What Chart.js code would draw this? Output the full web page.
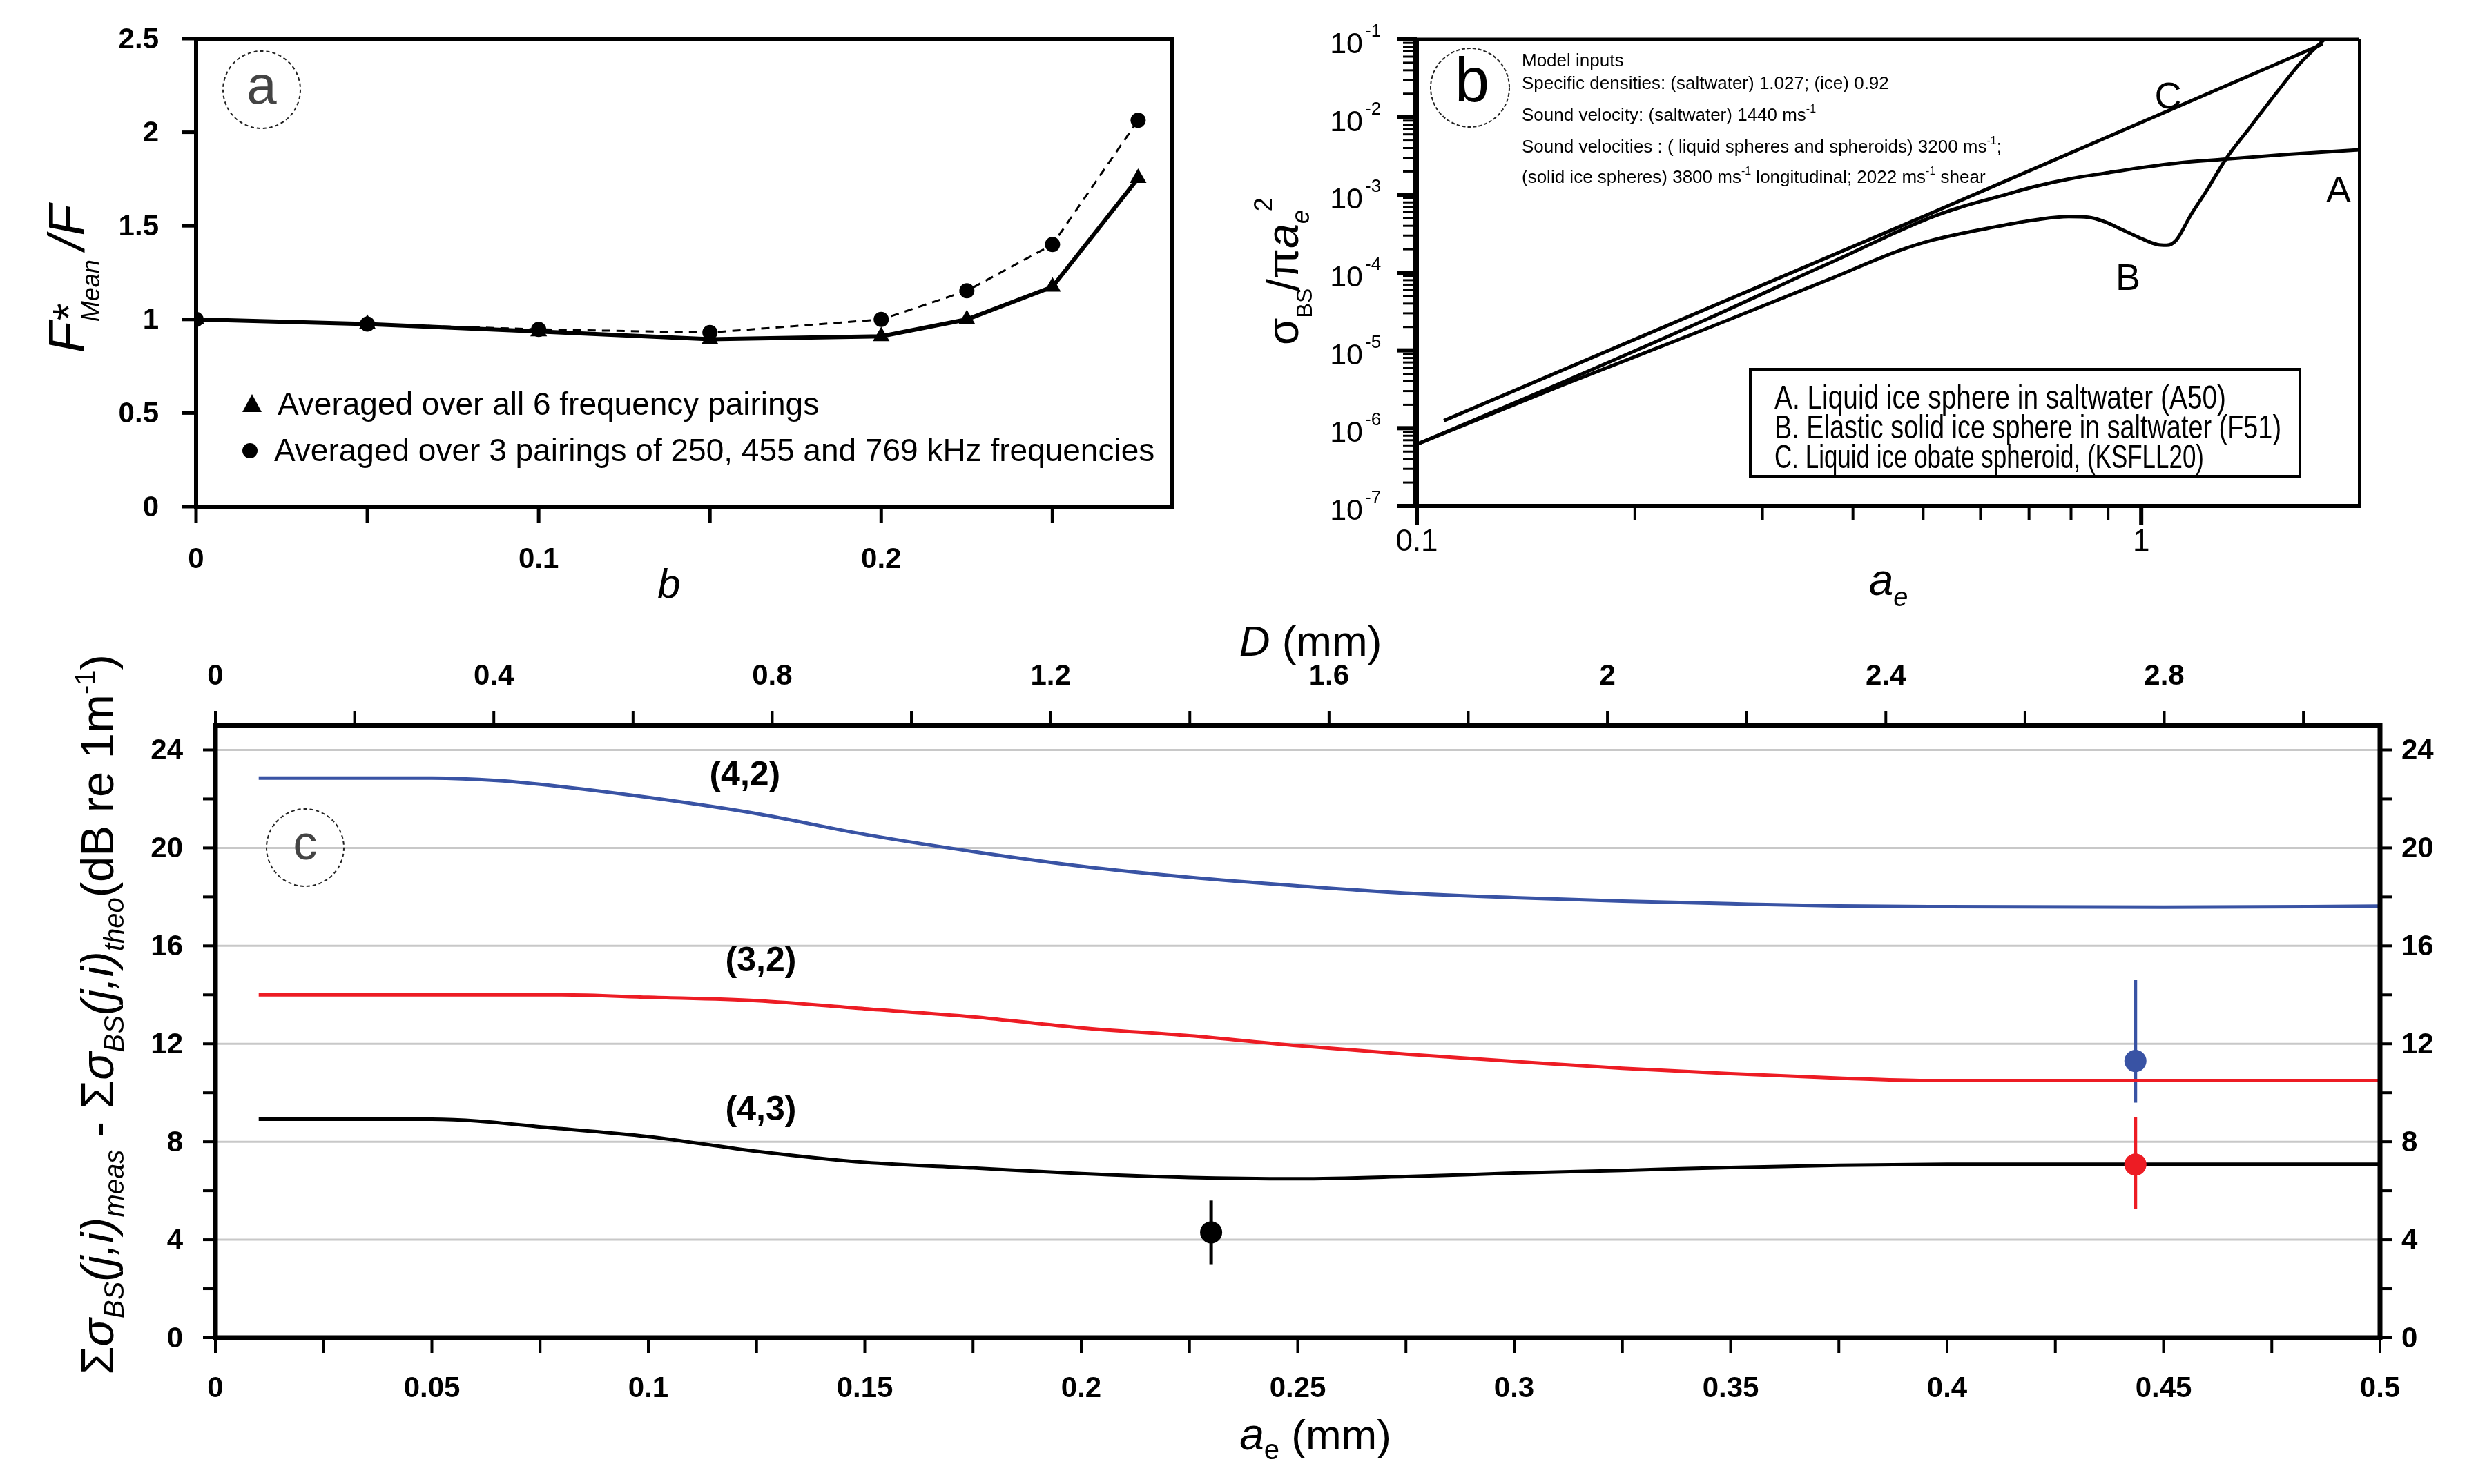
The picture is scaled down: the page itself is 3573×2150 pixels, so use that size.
<!DOCTYPE html>
<html><head><meta charset="utf-8">
<script src="https://cdn.jsdelivr.net/npm/chart.js@4.4.1/dist/chart.umd.min.js"></script>
<style>
html,body{margin:0;padding:0;background:#fff;}
#wrap{position:relative;width:3573px;height:2150px;overflow:hidden;background:#fff;}
canvas{position:absolute;left:0;top:0;}
</style></head><body>
<div id="wrap">
<canvas id="ca" width="3573" height="2150"></canvas>
<canvas id="cb" width="3573" height="2150"></canvas>
<canvas id="cc" width="3573" height="2150"></canvas>
</div>
<script>
const W = 3573, H = 2150;
const SANS = '"Liberation Sans", Arial, Helvetica, sans-serif';

// ---------------- Panel a data ----------------
const bValues = [0, 0.05, 0.1, 0.15, 0.2, 0.225, 0.25, 0.275];
const ratioAllSix = [1.0, 0.975, 0.936, 0.894, 0.91, 1.0, 1.174, 1.755];
const ratioThree = [1.0, 0.975, 0.947, 0.93, 1.0, 1.153, 1.40, 2.064];
const aYTicks = [0, 0.5, 1, 1.5, 2, 2.5];
const aYTickLabels = ['0', '0.5', '1', '1.5', '2', '2.5'];
const aXTicks = [0, 0.05, 0.1, 0.15, 0.2, 0.25];
const aXLabelTicks = [0, 0.1, 0.2];
const aXTickLabels = ['0', '0.1', '0.2'];
const aLegendLabels = ['Averaged over all 6 frequency pairings',
  'Averaged over 3 pairings of 250, 455 and 769 kHz frequencies'];

// ---------------- Panel b data ----------------
const aeA = [0.1, 0.158, 0.251, 0.355, 0.398, 0.462, 0.516, 0.562, 0.643, 0.708, 0.80, 0.891, 1.0, 1.122, 1.309, 1.585, 2.0];
const sigA = [6.2e-7, 3.8e-6, 2.5e-5, 1.1e-4, 1.78e-4, 3.4e-4, 5.25e-4, 6.9e-4, 9.8e-4, 1.26e-3, 1.62e-3, 1.9e-3, 2.24e-3, 2.57e-3, 2.88e-3, 3.31e-3, 3.8e-3];
const aeB = [0.1, 0.158, 0.251, 0.372, 0.462, 0.516, 0.631, 0.718, 0.794, 0.845, 0.891, 0.942, 1.0, 1.052, 1.084, 1.117, 1.172, 1.23, 1.309, 1.413, 1.542, 1.66, 1.79];
const sigB = [6.2e-7, 3.5e-6, 1.9e-5, 8.3e-5, 1.9e-4, 2.63e-4, 3.9e-4, 4.8e-4, 5.25e-4, 5.15e-4, 4.5e-4, 3.55e-4, 2.75e-4, 2.3e-4, 2.25e-4, 2.6e-4, 5.6e-4, 1.12e-3, 2.9e-3, 7.4e-3, 2.14e-2, 5.0e-2, 1.0e-1];
const aeC = [0.109, 0.5, 1.78];
const sigC = [1.25e-6, 5.25e-4, 8.7e-2];
const bYTickExponents = ['-7', '-6', '-5', '-4', '-3', '-2', '-1'];
const bYTickValues = [1e-7, 1e-6, 1e-5, 1e-4, 1e-3, 1e-2, 1e-1];
const bXMajorTicks = [0.1, 1];
const bXTickLabels = ['0.1', '1'];
const bXMinorTicks = [0.2, 0.3, 0.4, 0.5, 0.6, 0.7, 0.8, 0.9];
const bCurveNames = ['A', 'B', 'C'];
const bLegendLabels = ['A. Liquid ice sphere in saltwater (A50)',
  'B. Elastic solid ice sphere in saltwater (F51)',
  'C. Liquid ice obate spheroid, (KSFLL20)'];

// ---------------- Panel c data ----------------
const ae42 = [0.01, 0.05, 0.065, 0.08, 0.1, 0.125, 0.15, 0.175, 0.2, 0.225, 0.25, 0.275, 0.3, 0.325, 0.35, 0.375, 0.4, 0.45, 0.5];
const dB42 = [22.85, 22.85, 22.75, 22.5, 22.06, 21.4, 20.55, 19.85, 19.25, 18.8, 18.45, 18.15, 17.97, 17.83, 17.72, 17.63, 17.6, 17.58, 17.62];
const ae32 = [0.01, 0.08, 0.1, 0.125, 0.15, 0.175, 0.2, 0.225, 0.25, 0.275, 0.3, 0.325, 0.35, 0.375, 0.395, 0.5];
const dB32 = [14.0, 14.0, 13.9, 13.76, 13.43, 13.1, 12.65, 12.33, 11.92, 11.58, 11.28, 11.0, 10.78, 10.6, 10.5, 10.5];
const ae43 = [0.01, 0.05, 0.08, 0.1, 0.125, 0.15, 0.175, 0.2, 0.225, 0.25, 0.275, 0.3, 0.325, 0.35, 0.375, 0.4, 0.5];
const dB43 = [8.92, 8.92, 8.53, 8.21, 7.61, 7.16, 6.93, 6.7, 6.54, 6.49, 6.58, 6.72, 6.83, 6.95, 7.04, 7.08, 7.08];
const measAe = [0.23, 0.4435, 0.4435];
const measDB = [4.3, 11.3, 7.07];
const measErrUp = [1.3, 3.3, 1.95];
const measErrDown = [1.3, 1.7, 1.8];
const pairLabels = ['(4,2)', '(3,2)', '(4,3)'];
const pairLabelAe = [0.1223, 0.126, 0.126];
const pairLabelDB = [22.93, 15.35, 9.27];
const cYTicks = [0, 2, 4, 6, 8, 10, 12, 14, 16, 18, 20, 22, 24];
const cYLabelTicks = [0, 4, 8, 12, 16, 20, 24];
const cXTicks = [0, 0.025, 0.05, 0.075, 0.1, 0.125, 0.15, 0.175, 0.2, 0.225, 0.25, 0.275, 0.3, 0.325, 0.35, 0.375, 0.4, 0.425, 0.45, 0.475, 0.5];
const cXLabelTicks = [0, 0.05, 0.1, 0.15, 0.2, 0.25, 0.3, 0.35, 0.4, 0.45, 0.5];
const cXTickLabels = ['0', '0.05', '0.1', '0.15', '0.2', '0.25', '0.3', '0.35', '0.4', '0.45', '0.5'];
const dTicks = [0, 0.2, 0.4, 0.6, 0.8, 1.0, 1.2, 1.4, 1.6, 1.8, 2.0, 2.2, 2.4, 2.6, 2.8, 3.0];
const dLabelTicks = [0, 0.4, 0.8, 1.2, 1.6, 2.0, 2.4, 2.8];
const dTickLabels = ['0', '0.4', '0.8', '1.2', '1.6', '2', '2.4', '2.8'];

const BLUE = '#3953a4', RED = '#ed1c24';

// ---------------- helpers ----------------
function T(ctx, s, x, y, font, align, base, color, maxW) {
  ctx.save(); ctx.font = font; ctx.textAlign = align || 'center'; ctx.textBaseline = base || 'middle';
  ctx.fillStyle = color || '#000';
  if (maxW) ctx.fillText(s, x, y, maxW); else ctx.fillText(s, x, y);
  ctx.restore();
}
function L(ctx, x1, y1, x2, y2, w, c) {
  ctx.save(); ctx.beginPath(); ctx.moveTo(x1, y1); ctx.lineTo(x2, y2);
  ctx.lineWidth = w; ctx.strokeStyle = c || '#000'; ctx.lineCap = 'butt'; ctx.stroke(); ctx.restore();
}
function R(ctx, x, y, parts, rot, align) {
  ctx.save(); ctx.translate(x, y); if (rot) ctx.rotate(rot);
  let w = 0;
  parts.forEach(p => { ctx.font = p.f; p.w = ctx.measureText(p.t).width; if (!p.noadv) w += p.w + (p.gap || 0); });
  let cx = align === 'center' ? -w / 2 : (align === 'right' ? -w : 0);
  ctx.textAlign = 'left'; ctx.textBaseline = 'alphabetic';
  parts.forEach(p => {
    ctx.font = p.f; ctx.fillStyle = p.c || '#000';
    ctx.fillText(p.t, cx + (p.pre || 0), p.dy || 0);
    if (!p.noadv) cx += p.w + (p.gap || 0);
  });
  ctx.restore();
}
function CIRC(ctx, cx, cy, r, dash, w) {
  ctx.save(); ctx.beginPath(); ctx.arc(cx, cy, r, 0, Math.PI * 2);
  ctx.setLineDash(dash || []); ctx.lineWidth = w || 2; ctx.strokeStyle = '#222'; ctx.stroke(); ctx.restore();
}
function pad(l, t, r, b) { return { left: l, top: t, right: W - r, bottom: H - b }; }
const base = { responsive: false, animation: false, events: [],
  plugins: { legend: { display: false }, tooltip: { enabled: false } } };

// ---------------- Panel a ----------------
const plugA = { id: 'pa', afterDraw(chart) {
  const ctx = chart.ctx, ca = chart.chartArea, xs = chart.scales.x, ys = chart.scales.y;
  ctx.save(); ctx.lineWidth = 6; ctx.strokeStyle = '#000';
  ctx.strokeRect(ca.left, ca.top, ca.right - ca.left, ca.bottom - ca.top); ctx.restore();
  aYTicks.forEach((v, i) => { const p = ys.getPixelForValue(v);
    L(ctx, ca.left - 21, p, ca.left, p, 5);
    T(ctx, aYTickLabels[i], ca.left - 54, p + 2, 'bold 42px ' + SANS, 'right'); });
  aXTicks.forEach(v => { const p = xs.getPixelForValue(v); L(ctx, p, ca.bottom, p, ca.bottom + 23, 5); });
  aXLabelTicks.forEach((v, i) => { const p = xs.getPixelForValue(v);
    T(ctx, aXTickLabels[i], p, 811, 'bold 42px ' + SANS); });
  // titles
  R(ctx, 969, 866, [{ t: 'b', f: 'italic 60px ' + SANS }], 0, 'center');
  R(ctx, 122, 404, [
    { t: 'F', f: 'italic 74px ' + SANS },
    { t: '*', f: '64px ' + SANS, noadv: true, pre: 2 },
    { t: 'Mean', f: 'italic 36px ' + SANS, dy: 22, gap: 14 },
    { t: '/F', f: 'italic 74px ' + SANS }], -Math.PI / 2, 'center');
  // label circle
  CIRC(ctx, 379, 130, 56, [5, 4], 2);
  T(ctx, 'a', 379, 128, '78px ' + SANS, 'center', 'middle', '#444');
  // legend
  ctx.save(); ctx.fillStyle = '#000'; ctx.beginPath();
  ctx.moveTo(365, 571); ctx.lineTo(379, 597); ctx.lineTo(351, 597); ctx.closePath(); ctx.fill();
  ctx.beginPath(); ctx.arc(362, 653, 11, 0, Math.PI * 2); ctx.fill(); ctx.restore();
  T(ctx, aLegendLabels[0], 402, 588, '46px ' + SANS, 'left');
  T(ctx, aLegendLabels[1], 397, 655, '46px ' + SANS, 'left');
} };
new Chart(document.getElementById('ca'), {
  type: 'line',
  data: { datasets: [
    { data: bValues.map((b, i) => ({ x: b, y: ratioAllSix[i] })), borderColor: '#000', backgroundColor: '#000',
      borderWidth: 6, pointStyle: 'triangle', pointRadius: 14, pointBorderWidth: 0, tension: 0 },
    { data: bValues.map((b, i) => ({ x: b, y: ratioThree[i] })), borderColor: '#000', backgroundColor: '#000',
      borderWidth: 3, borderDash: [12, 9], pointStyle: 'circle', pointRadius: 11, pointBorderWidth: 0, tension: 0 }
  ] },
  options: Object.assign({}, base, {
    layout: { padding: pad(284, 56, 1698, 734) },
    scales: { x: { type: 'linear', min: 0, max: 0.285, display: false },
              y: { type: 'linear', min: 0, max: 2.5, display: false } }
  }),
  plugins: [plugA]
});

// ---------------- Panel b ----------------
const plugB = { id: 'pb', afterDraw(chart) {
  const ctx = chart.ctx, ca = chart.chartArea, xs = chart.scales.x, ys = chart.scales.y;
  L(ctx, ca.left, ca.top, ca.right, ca.top, 5);
  L(ctx, ca.right, ca.top, ca.right, ca.bottom, 4);
  L(ctx, ca.left - 2, ca.bottom, ca.right + 2, ca.bottom, 6);
  L(ctx, ca.left - 1, ca.top - 2, ca.left - 1, ca.bottom + 3, 8);
  bYTickValues.forEach((v, i) => {
    const p = ys.getPixelForValue(v);
    L(ctx, ca.left - 29, p, ca.left, p, 6);
    if (i < bYTickValues.length - 1) {
      for (let m = 2; m <= 9; m++) { const q = ys.getPixelForValue(v * m); L(ctx, ca.left - 20, q, ca.left, q, 3); }
    }
    R(ctx, 1974, p + 20, [{ t: '10', f: '43px ' + SANS }], 0, 'right');
    R(ctx, 1977, p - 4, [{ t: bYTickExponents[i], f: '26px ' + SANS }], 0, 'left');
  });
  bXMinorTicks.forEach(v => { const p = xs.getPixelForValue(v); L(ctx, p, ca.bottom, p, ca.bottom + 20, 4); });
  bXMajorTicks.forEach((v, i) => { const p = xs.getPixelForValue(v);
    L(ctx, p, ca.bottom, p, ca.bottom + 27, 6);
    T(ctx, bXTickLabels[i], p, 786, '44px ' + SANS); });
  // axis titles
  R(ctx, 2735, 862, [{ t: 'a', f: 'italic 64px ' + SANS }, { t: 'e', f: 'italic 38px ' + SANS, dy: 16 }], 0, 'center');
  R(ctx, 1880, 393, [
    { t: 'σ', f: '64px ' + SANS },
    { t: 'BS', f: '32px ' + SANS, dy: 20, gap: -4 },
    { t: '/', f: '64px ' + SANS },
    { t: 'π', f: '64px ' + SANS },
    { t: 'a', f: 'italic 64px ' + SANS },
    { t: 'e', f: 'italic 36px ' + SANS, dy: 16, gap: -2 },
    { t: '2', f: '36px ' + SANS, dy: -38 }], -Math.PI / 2, 'center');
  // circle label
  CIRC(ctx, 2129, 127, 57, [5, 3], 2);
  T(ctx, 'b', 2132, 122, '90px ' + SANS);
  // model inputs
  const f1 = '26px ' + SANS, fs = '16px ' + SANS;
  R(ctx, 2204, 96, [{ t: 'Model inputs', f: f1 }], 0, 'left');
  R(ctx, 2204, 129, [{ t: 'Specific densities: (saltwater) 1.027; (ice) 0.92', f: f1 }], 0, 'left');
  R(ctx, 2204, 175, [{ t: 'Sound velocity: (saltwater) 1440 ms', f: f1 }, { t: '-1', f: fs, dy: -12 }], 0, 'left');
  R(ctx, 2204, 221, [{ t: 'Sound velocities : ( liquid spheres and spheroids) 3200 ms', f: f1 }, { t: '-1', f: fs, dy: -12 }, { t: ';', f: f1 }], 0, 'left');
  R(ctx, 2204, 265, [{ t: '(solid ice spheres) 3800 ms', f: f1 }, { t: '-1', f: fs, dy: -12 },
    { t: ' longitudinal; 2022 ms', f: f1 }, { t: '-1', f: fs, dy: -12 }, { t: ' shear', f: f1 }], 0, 'left');
  // curve letters
  T(ctx, bCurveNames[0], 3387, 278, '54px ' + SANS);
  T(ctx, bCurveNames[1], 3082, 405, '54px ' + SANS);
  T(ctx, bCurveNames[2], 3140, 142, '54px ' + SANS);
  // legend box
  ctx.save(); ctx.fillStyle = '#fff'; ctx.fillRect(2535, 535, 796, 155);
  ctx.lineWidth = 4; ctx.strokeStyle = '#000'; ctx.strokeRect(2535, 535, 796, 155); ctx.restore();
  const legW = [654, 734, 622];
  bLegendLabels.forEach((s, i) => T(ctx, s, 2570, 592 + i * 43, '48px ' + SANS, 'left', 'alphabetic', '#000', legW[i]));
} };
new Chart(document.getElementById('cb'), {
  type: 'line',
  data: { datasets: [
    { data: aeA.map((x, i) => ({ x, y: sigA[i] })), borderColor: '#000', borderWidth: 5, pointRadius: 0, cubicInterpolationMode: 'monotone' },
    { data: aeB.map((x, i) => ({ x, y: sigB[i] })), borderColor: '#000', borderWidth: 5, pointRadius: 0, cubicInterpolationMode: 'monotone' },
    { data: aeC.map((x, i) => ({ x, y: sigC[i] })), borderColor: '#000', borderWidth: 5, pointRadius: 0, tension: 0 }
  ] },
  options: Object.assign({}, base, {
    layout: { padding: pad(2052, 57, 3417, 733) },
    scales: { x: { type: 'logarithmic', min: 0.1, max: 2, display: false },
              y: { type: 'logarithmic', min: 1e-7, max: 1e-1, display: false } }
  }),
  plugins: [plugB]
});

// ---------------- Panel c ----------------
const plugC = { id: 'pc',
  beforeDatasetsDraw(chart) {
    const ctx = chart.ctx, ca = chart.chartArea, xs = chart.scales.x, ys = chart.scales.y;
    cYLabelTicks.forEach(v => { if (v === 0) return; const p = ys.getPixelForValue(v); L(ctx, ca.left, p, ca.right, p, 3, '#c8c8c8'); });
    const cols = ['#000', BLUE, RED];
    measAe.forEach((a, i) => { const px = xs.getPixelForValue(a);
      L(ctx, px, ys.getPixelForValue(measDB[i] + measErrUp[i]), px, ys.getPixelForValue(measDB[i] - measErrDown[i]), 5, cols[i]); });
  },
  afterDraw(chart) {
    const ctx = chart.ctx, ca = chart.chartArea, xs = chart.scales.x, ys = chart.scales.y, xt = chart.scales.xTop;
    ctx.save(); ctx.lineWidth = 7; ctx.strokeStyle = '#000';
    ctx.strokeRect(ca.left, ca.top, ca.right - ca.left, ca.bottom - ca.top); ctx.restore();
    cYTicks.forEach(v => { const p = ys.getPixelForValue(v);
      L(ctx, ca.left - 18, p, ca.left, p, 4); L(ctx, ca.right, p, ca.right + 18, p, 4); });
    cYLabelTicks.forEach(v => { const p = ys.getPixelForValue(v);
      T(ctx, String(v), 265, p + 2, 'bold 42px ' + SANS, 'right');
      T(ctx, String(v), 3478, p + 2, 'bold 42px ' + SANS, 'left'); });
    cXTicks.forEach(v => { const p = xs.getPixelForValue(v); L(ctx, p, ca.bottom, p, ca.bottom + 22, 4); });
    cXLabelTicks.forEach((v, i) => { const p = xs.getPixelForValue(v); T(ctx, cXTickLabels[i], p, 2012, 'bold 42px ' + SANS); });
    dTicks.forEach(v => { const p = xt.getPixelForValue(v); L(ctx, p, ca.top, p, ca.top - 21, 4); });
    dLabelTicks.forEach((v, i) => { const p = xt.getPixelForValue(v); T(ctx, dTickLabels[i], p, 980, 'bold 42px ' + SANS); });
    // titles
    R(ctx, 1905, 2100, [{ t: 'a', f: 'italic 64px ' + SANS }, { t: 'e', f: '40px ' + SANS, dy: 14 }, { t: ' (mm)', f: '62px ' + SANS }], 0, 'center');
    R(ctx, 1898, 950, [{ t: 'D', f: 'italic 62px ' + SANS }, { t: ' (mm)', f: '62px ' + SANS }], 0, 'center');
    const fm = '67px ' + SANS, fi = 'italic 67px ' + SANS, fsub = 'italic 40px ' + SANS;
    R(ctx, 164, 1470, [
      { t: 'Σ', f: fm }, { t: 'σ', f: fi }, { t: 'BS', f: fsub, dy: 15 }, { t: '(j,i)', f: fi },
      { t: 'meas', f: fsub, dy: 15 }, { t: ' - ', f: fm },
      { t: 'Σ', f: fm }, { t: 'σ', f: fi }, { t: 'BS', f: fsub, dy: 15 }, { t: '(j,i)', f: fi },
      { t: 'theo', f: fsub, dy: 15 }, { t: '(dB re 1m', f: fm }, { t: '-1', f: '40px ' + SANS, dy: -27 }, { t: ')', f: fm }
    ], -Math.PI / 2, 'center');
    pairLabels.forEach((s, i) => T(ctx, s, xs.getPixelForValue(pairLabelAe[i]), ys.getPixelForValue(pairLabelDB[i]), 'bold 50px ' + SANS));
    CIRC(ctx, 442, 1228, 56, [5, 4], 2);
    T(ctx, 'c', 442, 1226, '70px ' + SANS, 'center', 'middle', '#444');
  } };
new Chart(document.getElementById('cc'), {
  type: 'line',
  data: { datasets: [
    { data: measAe.map((x, i) => ({ x, y: measDB[i] })), showLine: false, pointRadius: 16, pointBorderWidth: 0,
      pointBackgroundColor: ['#000', BLUE, RED], borderColor: 'rgba(0,0,0,0)' },
    { data: ae42.map((x, i) => ({ x, y: dB42[i] })), borderColor: BLUE, borderWidth: 5, pointRadius: 0, cubicInterpolationMode: 'monotone' },
    { data: ae32.map((x, i) => ({ x, y: dB32[i] })), borderColor: RED, borderWidth: 5, pointRadius: 0, cubicInterpolationMode: 'monotone' },
    { data: ae43.map((x, i) => ({ x, y: dB43[i] })), borderColor: '#000', borderWidth: 5, pointRadius: 0, cubicInterpolationMode: 'monotone' }
  ] },
  options: Object.assign({}, base, {
    layout: { padding: pad(312, 1051, 3447, 1938) },
    scales: { x: { type: 'linear', min: 0, max: 0.5, display: false },
              xTop: { type: 'linear', axis: 'x', position: 'top', min: 0, max: 3.11, display: false },
              y: { type: 'linear', min: 0, max: 25, display: false } }
  }),
  plugins: [plugC]
});
</script>
</body></html>
